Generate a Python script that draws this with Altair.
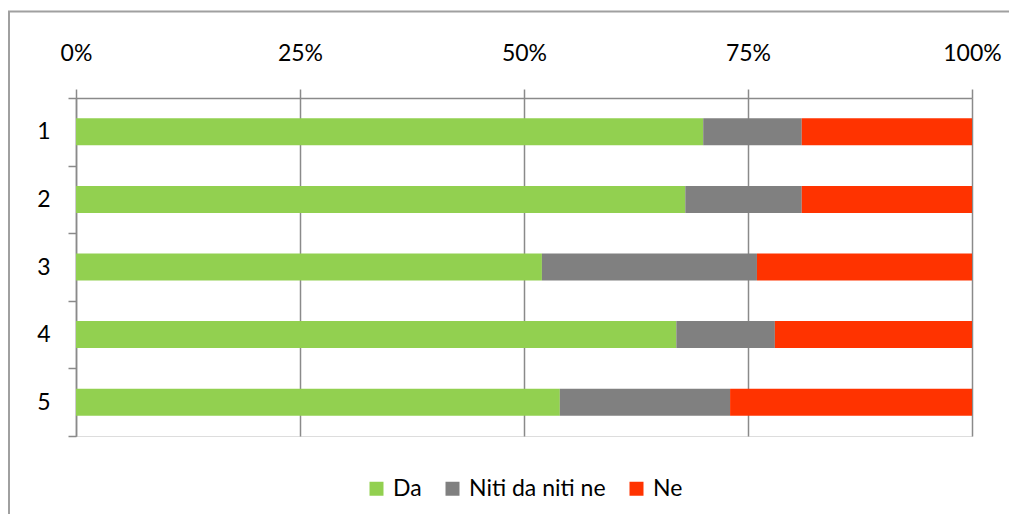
import altair as alt
import pandas as pd

categories = ["1", "2", "3", "4", "5"]
series = ["Da", "Niti da niti ne", "Ne"]
da = [70, 68, 52, 67, 54]
niti = [11, 13, 24, 11, 19]
ne = [19, 19, 24, 22, 27]
colors = ["#92D050", "#808080", "#FF3300"]
tick_values = [0, 0.25, 0.5, 0.75, 1.0]

rows = []
for i, c in enumerate(categories):
    for k, (s, vals) in enumerate(zip(series, [da, niti, ne])):
        rows.append({"cat": c, "series": s, "value": vals[i], "order": k})
df = pd.DataFrame(rows)

FONT = "Lato"
FS = 23
GRID = "#8a8a8a"
W, H = 896, 338

bars = alt.Chart(df).mark_bar(height=alt.RelativeBandSize(0.4)).encode(
    x=alt.X("value:Q", stack="normalize",
            scale=alt.Scale(domain=[0, 1]),
            axis=alt.Axis(orient="top", values=tick_values, format=".0%",
                          grid=True, gridColor=GRID, gridWidth=1.5,
                          domainColor=GRID, domainWidth=1.5,
                          tickColor=GRID, tickWidth=1.5, tickSize=9,
                          labelFlush=False,
                          labelPadding=24, labelFontSize=FS, labelFont=FONT,
                          labelColor="black", title=None)),
    y=alt.Y("cat:N", sort=categories,
            scale=alt.Scale(paddingInner=0, paddingOuter=0),
            axis=alt.Axis(tickBand="extent", domainColor=GRID, domainWidth=1.5,
                          tickColor=GRID, tickWidth=1.5, tickSize=8,
                          labelPadding=18, labelFontSize=FS, labelFont=FONT,
                          labelColor="black", labelAngle=0, title=None)),
    color=alt.Color("series:N", sort=series,
                    scale=alt.Scale(domain=series, range=colors),
                    legend=alt.Legend(orient="none", direction="horizontal",
                                      legendX=289, legendY=379, title=None,
                                      symbolType="square", symbolSize=196,
                                      symbolStrokeWidth=0, labelOffset=5,
                                      columnPadding=19, labelFontSize=FS,
                                      labelFont=FONT, labelColor="black")),
    order=alt.Order("order:Q"),
)

one = pd.DataFrame({"a": [0]})
top_border = alt.Chart(one).mark_rule(color="#a0a0a0", strokeWidth=2).encode(
    x=alt.value(-68), x2=alt.value(W + 40), y=alt.value(-86.5))
left_border = alt.Chart(one).mark_rule(color="#a0a0a0", strokeWidth=2).encode(
    x=alt.value(-67), y=alt.value(-87), y2=alt.value(H + 80))

chart = alt.layer(bars, top_border, left_border).properties(
    width=W, height=H,
    autosize=alt.AutoSizeParams(type="none"),
    padding={"left": 68, "top": 90, "right": 37, "bottom": 78},
).configure_view(stroke=None).configure(background="white")

chart.save("out.html", embed_options={"renderer": "svg", "actions": False})
